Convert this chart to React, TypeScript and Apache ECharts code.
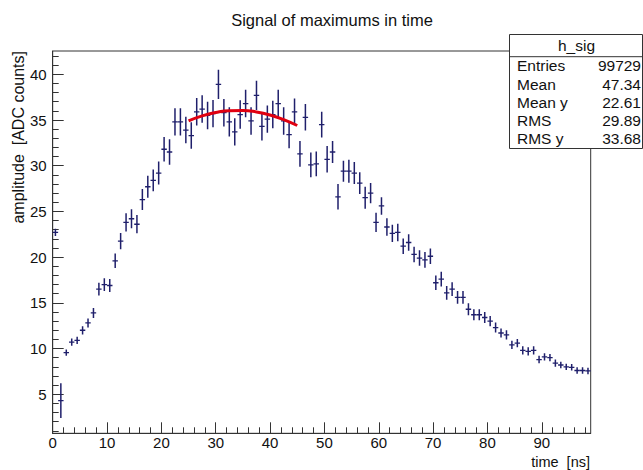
import React, { useEffect, useRef } from "react";
import * as echarts from "echarts";

// Histogram definition: 99 bins of width 1 from 0 to 99
const BIN_LOW = 0;
const BIN_WIDTH = 1;

const amplitude = [
  22.7, 4.3, 9.55, 10.7, 10.9, 12.0, 12.8, 13.9, 16.5, 17.0,
  16.9, 19.6, 21.75, 23.8, 24.2, 23.6, 26.3, 27.7, 28.4, 29.2,
  31.8, 31.5, 34.8, 34.8, 33.9, 33.3, 35.9, 36.2, 35.5, 35.7,
  38.9, 35.8, 34.8, 33.7, 35.6, 36.8, 34.9, 37.7, 34.3, 35.1,
  35.6, 36.8, 34.9, 33.4, 35.9, 31.3, 35.3, 30.1, 30.2, 34.5,
  30.7, 31.5, 26.6, 29.4, 29.4, 29.2, 28.1, 26.5, 27.0, 23.8,
  25.6, 23.3, 22.6, 22.7, 21.2, 21.6, 20.3, 19.9, 19.7, 20.1,
  17.2, 17.6, 16.1, 16.5, 15.6, 15.6, 14.3, 13.7, 13.7, 13.4,
  13.0, 12.3, 11.7, 11.5, 10.4, 10.6, 9.8, 9.7, 9.8, 8.8,
  9.1, 9.0, 8.4, 8.2, 8.0, 7.95, 7.6, 7.6, 7.55,
];

const amplitudeErr = [
  0.4, 1.9, 0.35, 0.4, 0.4, 0.45, 0.5, 0.55, 0.7, 0.7,
  0.7, 0.8, 0.9, 1.0, 1.05, 1.0, 1.15, 1.2, 1.2, 1.25,
  1.35, 1.4, 1.5, 1.5, 1.45, 1.45, 1.5, 1.5, 1.5, 1.5,
  1.6, 1.5, 1.6, 1.5, 1.55, 1.5, 1.5, 1.6, 1.55, 1.5,
  1.5, 1.5, 1.5, 1.5, 1.45, 1.4, 1.45, 1.35, 1.35, 1.4,
  1.45, 1.2, 1.4, 1.15, 1.25, 1.2, 1.2, 1.2, 1.1, 1.05,
  0.95, 0.95, 0.95, 0.95, 0.85, 0.9, 0.85, 0.85, 0.85, 0.85,
  0.8, 0.8, 0.75, 0.75, 0.7, 0.7, 0.65, 0.6, 0.6, 0.6,
  0.55, 0.55, 0.5, 0.5, 0.45, 0.45, 0.45, 0.45, 0.45, 0.4,
  0.4, 0.4, 0.4, 0.35, 0.35, 0.35, 0.35, 0.35, 0.35,
];

// Fit curve (red)
const fitX = [25, 27.5, 30, 32.5, 35, 37.5, 40, 42.5, 45];
const fitY = [34.9, 35.45, 35.82, 36.02, 36.04, 35.88, 35.55, 35.05, 34.4];

// Axis ticks
const xMajorTicks = [0, 10, 20, 30, 40, 50, 60, 70, 80, 90];
const yMajorTicks = [5, 10, 15, 20, 25, 30, 35, 40];
const X_MIN = 0;
const X_MAX = 99;
const Y_MIN = 0.73;
const Y_MAX = 42.55;

// Stats box
const statsTitle = "h_sig";
const statsNames = ["Entries", "Mean", "Mean y", "RMS", "RMS y"];
const statsValues = ["99729", "47.34", "22.61", "29.89", "33.68"];

const FONT = "'Liberation Sans', Arial, Helvetica, sans-serif";
const POINT_COLOR = "#1f1f6b";

export default function App() {
  const ref = useRef<HTMLDivElement>(null);

  useEffect(() => {
    if (!ref.current) return;
    const chart = echarts.init(ref.current, null, { renderer: "svg" });

    const histData = amplitude.map((v, i) => [
      BIN_LOW + (i + 0.5) * BIN_WIDTH,
      v,
      amplitudeErr[i],
    ]);
    const fitData = fitX.map((x, i) => [x, fitY[i]]);

    const xMinor: number[] = [];
    for (let v = X_MIN; v <= X_MAX; v += 2) if (v % 10 !== 0) xMinor.push(v);
    const yMinor: number[] = [];
    for (let v = 1; v <= Math.floor(Y_MAX); v += 1) if (v % 5 !== 0) yMinor.push(v);

    const statTop = 34;
    const statLeft = 509;
    const statW = 133;
    const statH = 114;
    const headerH = 22.7;
    const rowH = (statH - headerH) / statsNames.length;

    const graphics: any[] = [
      {
        type: "text",
        x: 332,
        y: 20,
        style: {
          text: "Signal of maximums in time",
          font: `16.5px ${FONT}`,
          fill: "#111",
          align: "center",
          verticalAlign: "middle",
        },
      },
      {
        type: "text",
        x: 18,
        y: 51,
        rotation: Math.PI / 2,
        style: {
          text: "amplitude  [ADC counts]",
          font: `16px ${FONT}`,
          fill: "#111",
          align: "right",
          verticalAlign: "middle",
        },
      },
      {
        type: "text",
        x: 590,
        y: 462,
        style: {
          text: "time  [ns]",
          font: `14.5px ${FONT}`,
          fill: "#111",
          align: "right",
          verticalAlign: "middle",
        },
      },
      {
        type: "rect",
        shape: { x: statLeft + 0.5, y: statTop + 0.5, width: statW, height: statH },
        style: { fill: "#fff", stroke: "#333", lineWidth: 1 },
        z: 10,
      },
      {
        type: "line",
        shape: {
          x1: statLeft,
          y1: statTop + headerH,
          x2: statLeft + statW,
          y2: statTop + headerH,
        },
        style: { stroke: "#333", lineWidth: 1 },
        z: 10,
      },
      {
        type: "text",
        x: statLeft + statW / 2 + 1,
        y: statTop + headerH / 2,
        z: 11,
        style: {
          text: statsTitle,
          font: `15.5px ${FONT}`,
          fill: "#111",
          align: "center",
          verticalAlign: "middle",
        },
      },
    ];
    statsNames.forEach((n, i) => {
      const cy = statTop + headerH + rowH * (i + 0.5);
      graphics.push({
        type: "text",
        x: statLeft + 8,
        y: cy,
        z: 11,
        style: { text: n, font: `15.5px ${FONT}`, fill: "#111", align: "left", verticalAlign: "middle" },
      });
      graphics.push({
        type: "text",
        x: statLeft + statW - 1,
        y: cy,
        z: 11,
        style: { text: statsValues[i], font: `15.5px ${FONT}`, fill: "#111", align: "right", verticalAlign: "middle" },
      });
    });

    const axisLabelStyle = { fontSize: 15, fontFamily: FONT, color: "#111" };

    chart.setOption({
      animation: false,
      backgroundColor: "#fff",
      grid: {
        left: 52.7,
        top: 51,
        right: 52.3,
        bottom: 36.7,
        show: true,
        borderColor: "#333",
        borderWidth: 1,
        backgroundColor: "transparent",
      },
      xAxis: [
        {
          type: "value",
          min: X_MIN,
          max: X_MAX,
          position: "bottom",
          axisLine: { show: true, onZero: false, lineStyle: { color: "#333", width: 1 } },
          axisTick: { show: true, inside: true, length: 11, customValues: xMajorTicks, lineStyle: { color: "#333" } },
          axisLabel: { show: true, margin: 2, lineHeight: 15, customValues: xMajorTicks, ...axisLabelStyle },
          splitLine: { show: false },
        },
        {
          type: "value",
          min: X_MIN,
          max: X_MAX,
          position: "bottom",
          axisLine: { show: false, onZero: false },
          axisTick: { show: true, inside: true, length: 6, customValues: xMinor, lineStyle: { color: "#333" } },
          axisLabel: { show: false },
          splitLine: { show: false },
        },
      ],
      yAxis: [
        {
          type: "value",
          min: Y_MIN,
          max: Y_MAX,
          position: "left",
          axisLine: { show: true, onZero: false, lineStyle: { color: "#333", width: 1 } },
          axisTick: { show: true, inside: true, length: 11, customValues: yMajorTicks, lineStyle: { color: "#333" } },
          axisLabel: { show: true, margin: 6, customValues: yMajorTicks, ...axisLabelStyle },
          splitLine: { show: false },
        },
        {
          type: "value",
          min: Y_MIN,
          max: Y_MAX,
          position: "left",
          axisLine: { show: false, onZero: false },
          axisTick: { show: true, inside: true, length: 6, customValues: yMinor, lineStyle: { color: "#333" } },
          axisLabel: { show: false },
          splitLine: { show: false },
        },
      ],
      series: [
        {
          type: "custom",
          name: "h_sig",
          xAxisIndex: 0,
          yAxisIndex: 0,
          data: histData,
          encode: { x: 0, y: 1 },
          clip: true,
          renderItem: (params: any, api: any) => {
            const x = api.value(0);
            const y = api.value(1);
            const e = api.value(2);
            const half = BIN_WIDTH / 2;
            const top = api.coord([x, y + e]);
            const bot = api.coord([x, y - e]);
            const l = api.coord([x - half, y]);
            const r = api.coord([x + half, y]);
            return {
              type: "group",
              children: [
                {
                  type: "line",
                  shape: { x1: top[0], y1: top[1], x2: bot[0], y2: bot[1] },
                  style: { stroke: POINT_COLOR, lineWidth: 1.5 },
                },
                {
                  type: "line",
                  shape: { x1: l[0], y1: l[1], x2: r[0], y2: r[1] },
                  style: { stroke: POINT_COLOR, lineWidth: 1.3 },
                },
              ],
            };
          },
        },
        {
          type: "line",
          name: "fit",
          xAxisIndex: 0,
          yAxisIndex: 0,
          data: fitData,
          smooth: true,
          showSymbol: false,
          lineStyle: { color: "#e00010", width: 3 },
          z: 5,
        },
      ],
      graphic: graphics,
    });

    return () => chart.dispose();
  }, []);

  return (
    <div
      ref={ref}
      style={{ position: "fixed", left: 0, top: 0, width: 643, height: 470, background: "#fff" }}
    />
  );
}
